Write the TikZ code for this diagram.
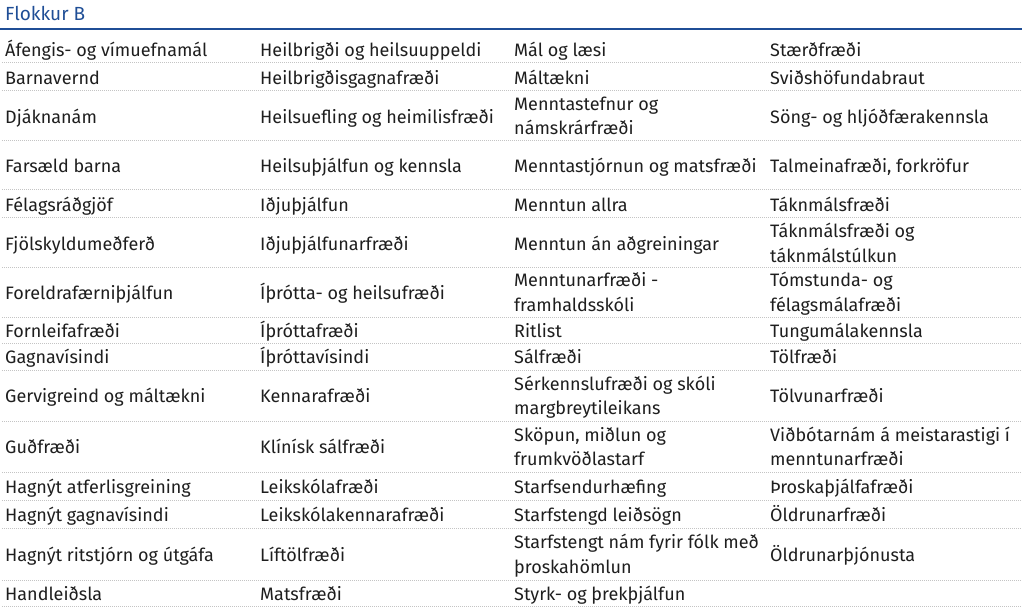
\documentclass[tikz,border=0pt]{standalone}
\usepackage{fontspec}
\setmainfont{Fira Sans}
\definecolor{titleblue}{HTML}{1F4E96}
\definecolor{dotgray}{HTML}{C4C4C4}
\definecolor{ink}{HTML}{1E1E1E}
\begin{document}
\begin{tikzpicture}[x=1pt,y=-1pt,
  cell/.style={anchor=base west,inner sep=0pt,yshift=-1.2pt,text=ink,font=\fontsize{18}{24.6}\selectfont,align=left},
  title/.style={anchor=base west,inner sep=0pt,font=\fontsize{19}{24.6}\selectfont,text=titleblue},
  rule/.style={draw=titleblue,line width=2.4pt},
  sep/.style={draw=dotgray,line width=1pt,dash pattern=on 1pt off 1pt}]
\useasboundingbox (0,0) rectangle (1024,609);
\node[title] (title) at (5,21) {Flokkur B};
\coordinate (bl) at (0,29); \coordinate (br) at (1022,29);
\draw[rule] (bl) -- (br);
% dotted separators
\foreach \yy [count=\i] in {63,91,141,190,218,268,317,343,370,421,472,500,528,580,606}{
  \coordinate (sl\i) at (2,\yy); \coordinate (sr\i) at (1022,\yy);
  \draw[sep] (sl\i) -- (sr\i);
}
% row 1
\node[cell] (c1a) at (5,55) {Áfengis- og vímuefnamál};
\node[cell] (c1b) at (260,55) {Heilbrigði og heilsuuppeldi};
\node[cell] (c1c) at (514,55) {Mál og læsi};
\node[cell] (c1d) at (770,55) {Stærðfræði};
% row 2
\node[cell] (c2a) at (5,83) {Barnavernd};
\node[cell] (c2b) at (260,83) {Heilbrigðisgagnafræði};
\node[cell] (c2c) at (514,83) {Máltækni};
\node[cell] (c2d) at (770,83) {Sviðshöfundabraut};
% row 3
\node[cell] (c3a) at (5,122) {Djáknanám};
\node[cell] (c3b) at (260,122) {Heilsuefling og heimilisfræði};
\node[cell] (c3c) at (514,133.6) {Menntastefnur og\\námskrárfræði};
\node[cell] (c3d) at (770,122) {Söng- og hljóðfærakennsla};
% row 4
\node[cell] (c4a) at (5,171) {Farsæld barna};
\node[cell] (c4b) at (260,171) {Heilsuþjálfun og kennsla};
\node[cell] (c4c) at (514,171) {Menntastjórnun og matsfræði};
\node[cell] (c4d) at (770,171) {Talmeinafræði, forkröfur};
% row 5
\node[cell] (c5a) at (5,210) {Félagsráðgjöf};
\node[cell] (c5b) at (260,210) {Iðjuþjálfun};
\node[cell] (c5c) at (514,210) {Menntun allra};
\node[cell] (c5d) at (770,210) {Táknmálsfræði};
% row 6
\node[cell] (c6a) at (5,249) {Fjölskyldumeðferð};
\node[cell] (c6b) at (260,249) {Iðjuþjálfunarfræði};
\node[cell] (c6c) at (514,249) {Menntun án aðgreiningar};
\node[cell] (c6d) at (770,261.1) {Táknmálsfræði og\\táknmálstúlkun};
% row 7
\node[cell] (c7a) at (5,298) {Foreldrafærniþjálfun};
\node[cell] (c7b) at (260,298) {Íþrótta- og heilsufræði};
\node[cell] (c7c) at (514,310.1) {Menntunarfræði -\\framhaldsskóli};
\node[cell] (c7d) at (770,310.1) {Tómstunda- og\\félagsmálafræði};
% row 8
\node[cell] (c8a) at (5,336) {Fornleifafræði};
\node[cell] (c8b) at (260,336) {Íþróttafræði};
\node[cell] (c8c) at (514,336) {Ritlist};
\node[cell] (c8d) at (770,336) {Tungumálakennsla};
% row 9
\node[cell] (c9a) at (5,362.5) {Gagnavísindi};
\node[cell] (c9b) at (260,362.5) {Íþróttavísindi};
\node[cell] (c9c) at (514,362.5) {Sálfræði};
\node[cell] (c9d) at (770,362.5) {Tölfræði};
% row 10
\node[cell] (c10a) at (5,401.5) {Gervigreind og máltækni};
\node[cell] (c10b) at (260,401.5) {Kennarafræði};
\node[cell] (c10c) at (514,413.6) {Sérkennslufræði og skóli\\margbreytileikans};
\node[cell] (c10d) at (770,401.5) {Tölvunarfræði};
% row 11
\node[cell] (c11a) at (5,452.5) {Guðfræði};
\node[cell] (c11b) at (260,452.5) {Klínísk sálfræði};
\node[cell] (c11c) at (514,464.6) {Sköpun, miðlun og\\frumkvöðlastarf};
\node[cell] (c11d) at (770,464.6) {Viðbótarnám á meistarastigi í\\menntunarfræði};
% row 12
\node[cell] (c12a) at (5,492) {Hagnýt atferlisgreining};
\node[cell] (c12b) at (260,492) {Leikskólafræði};
\node[cell] (c12c) at (514,492) {Starfsendurhæfing};
\node[cell] (c12d) at (770,492) {Þroskaþjálfafræði};
% row 13
\node[cell] (c13a) at (5,520) {Hagnýt gagnavísindi};
\node[cell] (c13b) at (260,520) {Leikskólakennarafræði};
\node[cell] (c13c) at (514,520) {Starfstengd leiðsögn};
\node[cell] (c13d) at (770,520) {Öldrunarfræði};
% row 14
\node[cell] (c14a) at (5,560) {Hagnýt ritstjórn og útgáfa};
\node[cell] (c14b) at (260,560) {Líftölfræði};
\node[cell] (c14c) at (514,572.1) {Starfstengt nám fyrir fólk með\\þroskahömlun};
\node[cell] (c14d) at (770,560) {Öldrunarþjónusta};
% row 15
\node[cell] (c15a) at (5,599) {Handleiðsla};
\node[cell] (c15b) at (260,599) {Matsfræði};
\node[cell] (c15c) at (514,599) {Styrk- og þrekþjálfun};
\end{tikzpicture}
\end{document}
